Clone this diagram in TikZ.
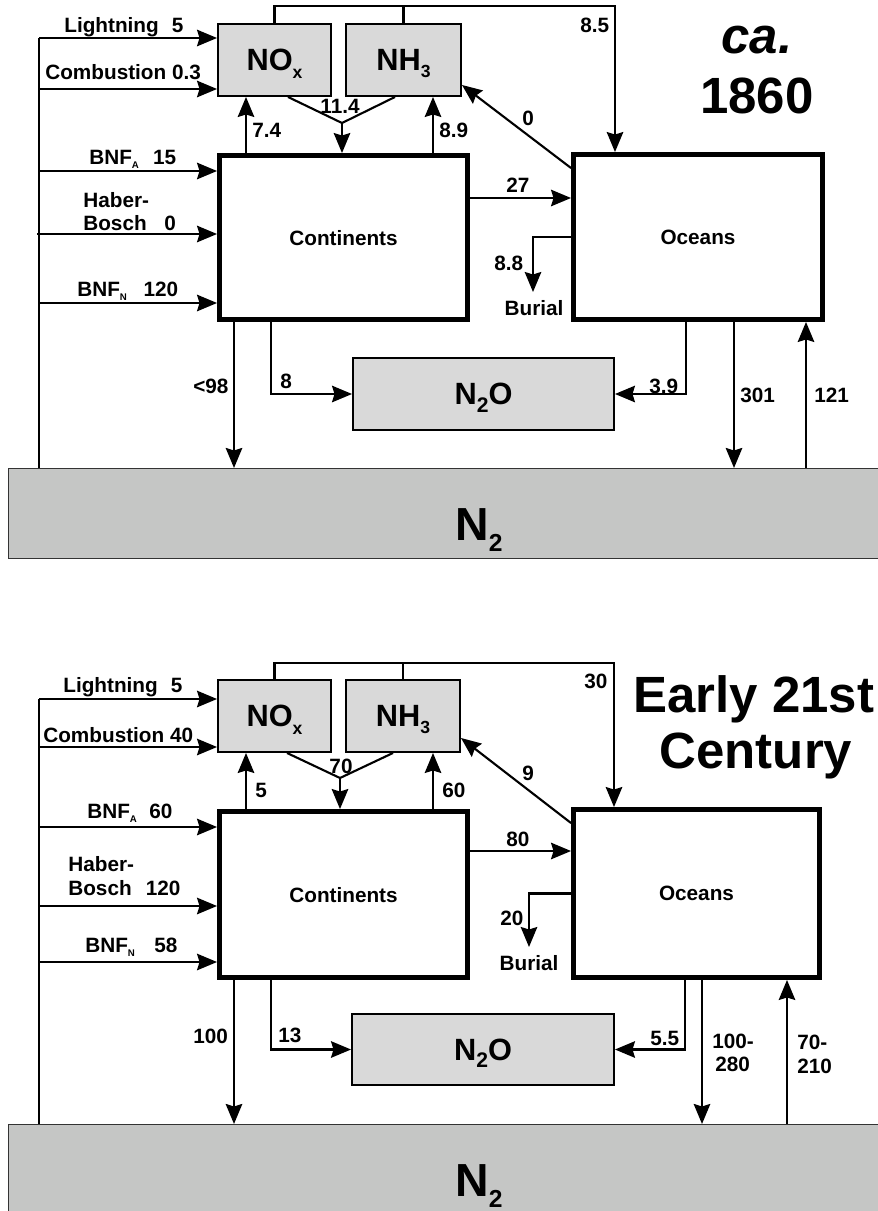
\documentclass[tikz,border=0pt]{standalone}
\usepackage{fontspec}
\setmainfont{Liberation Sans}
\usetikzlibrary{arrows.meta,calc}
\definecolor{gasgray}{HTML}{D9D9D9}
\definecolor{airgray}{HTML}{C5C6C5}
\newcommand{\lo}[2]{\raisebox{-.45ex}{\fontsize{#1}{#1}\selectfont #2}}
\tikzset{>={Stealth[length=4mm,width=3.3mm,inset=.5mm]},every node/.style={font=\fontsize{11.8}{13}\selectfont\bfseries},
flow/.style={line width=1.2pt,->},wire/.style={line width=1.2pt},
pool/.style={draw,line width=2.8pt,inner sep=0pt,text depth=0pt},
gas/.style={draw,line width=1.1pt,fill=gasgray,inner sep=0pt,text depth=0pt,font=\fontsize{17.5}{18}\selectfont\bfseries},
air/.style={draw=black!80,line width=.6pt,fill=airgray,inner sep=0pt},
lab/.style={anchor=base,inner sep=0pt},labw/.style={anchor=base west,inner sep=0pt},
era/.style={anchor=base,inner sep=0pt,font=\fontsize{29}{30}\selectfont\bfseries}}
\begin{document}
\begin{tikzpicture}[x=.2mm,y=-.2mm]
\useasboundingbox (0,0) rectangle (877,1211);
% ca. 1860
\node[gas,minimum width=22.6mm,minimum height=14.4mm] (noxA) at (274.5,60) {NO\lo{10pt}{x}};
\node[gas,minimum width=23mm,minimum height=14.4mm] (nh3A) at (403.5,60) {NH\lo{10pt}{3}};
\node[pool,minimum width=49.6mm,minimum height=32.8mm] (contA) at (343.5,237.5) {Continents};
\node[pool,minimum width=49.8mm,minimum height=33mm] (oceA) at (698,237) {Oceans};
\node[gas,minimum width=52.2mm,minimum height=14.4mm] (n2oA) at (483.5,394) {N\lo{12pt}{2}O};
\node[air,minimum width=187.8mm,minimum height=18mm] (n2A) at (478,513.5) {};
\node[lab,font=\fontsize{26.4}{27}\selectfont\bfseries] (n2tA) at (479,540) {N\lo{14pt}{2}};
\node[era,font=\fontsize{29}{30}\selectfont\bfseries\itshape] (caA) at (757,53) {ca.};\node[era] (yrA) at (757,113) {1860};
\coordinate (lgA) at (39,38);\coordinate (cbA) at (39,89);\coordinate (baA) at (39,171);\coordinate (hbA) at (39,234);\coordinate (bnA) at (39,303);
\draw[wire] (lgA) -- (lgA |- n2A.north);\draw[wire] (hbA) -- ++(-2,0);
\draw[flow] (lgA) -- (lgA -| noxA.west);\draw[flow] (cbA) -- (cbA -| noxA.west);
\draw[flow] (baA) -- (baA -| contA.west);\draw[flow] (hbA) -- (hbA -| contA.west);\draw[flow] (bnA) -- (bnA -| contA.west);
\node[labw] (lgtA) at (64,32) {Lightning\hspace{7.5pt}5};\node[labw] (cbtA) at (45,79) {Combustion 0.3};
\node[labw] (batA) at (89,164) {BNF\lo{5.5pt}{A}\hspace{8pt}15};
\node[labw] (hbtA) at (83,207) {Haber-};\node[labw] (hbnA) at (83,230) {Bosch\hspace{10pt}0};
\node[labw] (bntA) at (77,296) {BNF\lo{5.5pt}{N}\hspace{9.5pt}120};
\coordinate (rA) at (615,6);
\draw[flow] (noxA.north) |- (rA) -- (rA |- oceA.north);\draw[wire] (nh3A.north) -- (nh3A.north |- rA);
\node[labw] (t85A) at (580,32) {8.5};
\coordinate (u74A) at (246,0);\coordinate (u89A) at (433,0);\coordinate (vA) at (342,123);
\draw[flow] (u74A |- contA.north) -- (u74A |- noxA.south);\draw[flow] (u89A |- contA.north) -- (u89A |- nh3A.south);
\draw[wire] ($(noxA.south)+(13.5,0)$) -- (vA) -- ($(nh3A.south)+(-8.5,0)$);\draw[flow] (vA) -- (vA |- contA.north);
\node[labw] (t74A) at (252,137) {7.4};\node[lab] (t114A) at (340,113) {11.4};\node[labw] (t89A) at (439,137) {8.9};
\draw[flow] ($(oceA.north west)+(0,16)$) -- ($(nh3A.south east)+(0,-12)$);\node[labw] (t0A) at (522,125) {0};
\coordinate (f27A) at (0,198);\draw[flow] (f27A -| contA.east) -- (f27A -| oceA.west);\node[labw] (t27A) at (506,192) {27};
\coordinate (burA) at (533,292);\draw[flow] (oceA.west) -| (burA);
\node[labw] (t88A) at (494,270) {8.8};\node[lab] (burtA) at (534,315) {Burial};
\coordinate (d98A) at (234,0);\coordinate (d8A) at (271,0);\coordinate (d39A) at (686,0);\coordinate (d301A) at (734,0);\coordinate (u121A) at (806,0);
\draw[flow] (d98A |- contA.south) -- (d98A |- n2A.north);\draw[flow] (d8A |- contA.south) |- (n2oA.west);
\draw[flow] (d39A |- oceA.south) |- (n2oA.east);\draw[flow] (d301A |- oceA.south) -- (d301A |- n2A.north);
\draw[flow] (u121A |- n2A.north) -- (u121A |- oceA.south);
\node[labw] (t98A) at (193,393) {<98};\node[labw] (t8A) at (280,388) {8};\node[labw] (t39A) at (649,393) {3.9};
\node[labw] (t301A) at (740,402) {301};\node[labw] (t121A) at (814,402) {121};
% early 21st century
\node[gas,minimum width=22.6mm,minimum height=14.4mm] (noxB) at (274.5,716) {NO\lo{10pt}{x}};
\node[gas,minimum width=22.8mm,minimum height=14.4mm] (nh3B) at (403,716) {NH\lo{10pt}{3}};
\node[pool,minimum width=49.6mm,minimum height=33.2mm] (contB) at (343.5,894.5) {Continents};
\node[pool,minimum width=49.2mm,minimum height=33.6mm] (oceB) at (696.5,893.5) {Oceans};
\node[gas,minimum width=52.4mm,minimum height=14.2mm] (n2oB) at (483,1049.5) {N\lo{12pt}{2}O};
\node[air,minimum width=187.8mm,minimum height=24mm] (n2B) at (478,1184.5) {};
\node[lab,font=\fontsize{26.4}{27}\selectfont\bfseries] (n2tB) at (479,1196) {N\lo{14pt}{2}};
\node[era,anchor=base west] (eaB) at (633,712) {Early 21st};\node[era] (ceB) at (756,768) {Century};
\coordinate (lgB) at (39,699);\coordinate (cbB) at (39,747);\coordinate (baB) at (39,827);\coordinate (hbB) at (39,906);\coordinate (bnB) at (39,962);
\draw[wire] (lgB) -- (lgB |- n2B.north);
\draw[flow] (lgB) -- (lgB -| noxB.west);\draw[flow] (cbB) -- (cbB -| noxB.west);
\draw[flow] (baB) -- (baB -| contB.west);\draw[flow] (hbB) -- (hbB -| contB.west);\draw[flow] (bnB) -- (bnB -| contB.west);
\node[labw] (lgtB) at (63,692) {Lightning\hspace{7.5pt}5};\node[labw] (cbtB) at (43,742) {Combustion 40};
\node[labw] (batB) at (87,818) {BNF\lo{5.5pt}{A}\hspace{7pt}60};
\node[labw] (hbtB) at (68,871) {Haber-};\node[labw] (hbnB) at (68,895) {Bosch\hspace{8pt}120};
\node[labw] (bntB) at (85,952) {BNF\lo{5.5pt}{N}\hspace{11pt}58};
\coordinate (rB) at (614,663);
\draw[flow] (noxB.north) |- (rB) -- (rB |- oceB.north);\draw[wire] (nh3B.north) -- (nh3B.north |- rB);
\node[labw] (t30B) at (584,688) {30};
\coordinate (u5B) at (246,0);\coordinate (u60B) at (433,0);\coordinate (vB) at (340,778);
\draw[flow] (u5B |- contB.north) -- (u5B |- noxB.south);\draw[flow] (u60B |- contB.north) -- (u60B |- nh3B.south);
\draw[wire] ($(noxB.south)+(12.5,0)$) -- (vB) -- ($(nh3B.south)+(-10,0)$);\draw[flow] (vB) -- (vB |- contB.north);
\node[labw] (t5B) at (255,797) {5};\node[lab] (t70B) at (341,773) {70};\node[labw] (t60B) at (442,797) {60};
\draw[flow] ($(oceB.north west)+(0,16)$) -- ($(nh3B.south east)+(0,-15)$);\node[labw] (t9B) at (522,780) {9};
\coordinate (f80B) at (0,851);\draw[flow] (f80B -| contB.east) -- (f80B -| oceB.west);\node[labw] (t80B) at (506,846) {80};
\coordinate (burB) at (529,947);\draw[flow] (oceB.west) -| (burB);
\node[labw] (t20B) at (500,925) {20};\node[lab] (burtB) at (529,970) {Burial};
\coordinate (d100B) at (234,0);\coordinate (d13B) at (271,0);\coordinate (d55B) at (685,0);\coordinate (d280B) at (702,0);\coordinate (u210B) at (787,0);
\draw[flow] (d100B |- contB.south) -- (d100B |- n2B.north);\draw[flow] (d13B |- contB.south) |- (n2oB.west);
\draw[flow] (d55B |- oceB.south) |- (n2oB.east);\draw[flow] (d280B |- oceB.south) -- (d280B |- n2B.north);
\draw[flow] (u210B |- n2B.north) -- (u210B |- oceB.south);
\node[labw] (t100B) at (193,1043) {100};\node[labw] (t13B) at (278,1042) {13};\node[labw] (t55B) at (650,1045) {5.5};
\node[labw] (t280aB) at (712,1048) {100-};\node[labw] (t280bB) at (715,1071) {280};
\node[labw] (t210aB) at (797,1049) {70-};\node[labw] (t210bB) at (797,1073) {210};
\end{tikzpicture}
\end{document}
